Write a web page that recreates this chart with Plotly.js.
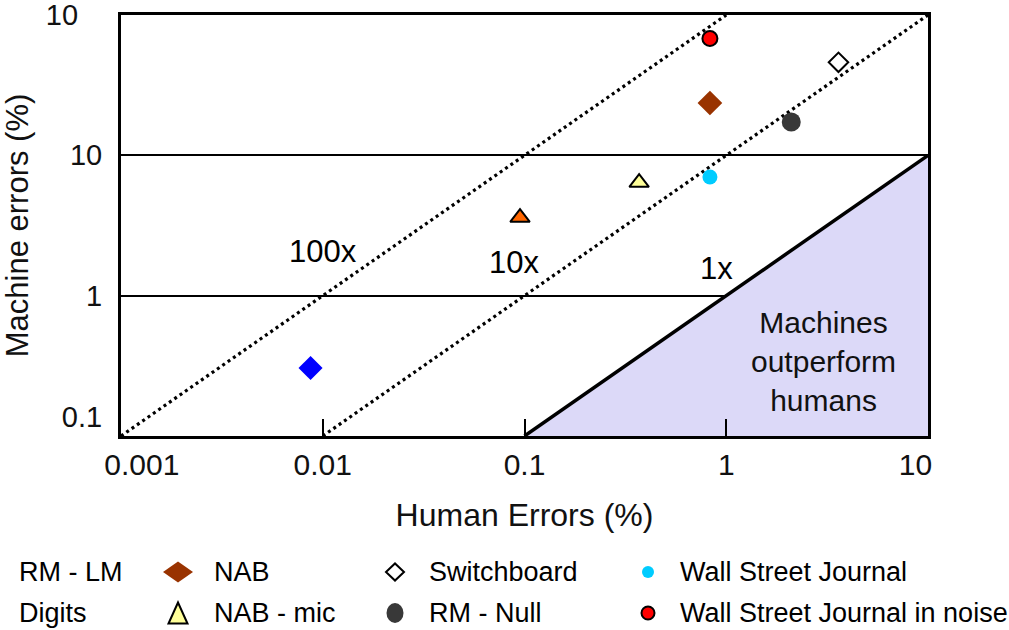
<!DOCTYPE html>
<html>
<head>
<meta charset="utf-8">
<script src="https://cdn.plot.ly/plotly-3.0.1.min.js"></script>
<style>html,body{margin:0;padding:0;background:#fff;}#chart{width:1009px;height:630px;}</style>
</head>
<body>
<div id="chart"></div>
<script>
// ---- data ----
const seriesNames = ["Digits", "RM - LM", "NAB - mic", "Wall Street Journal", "NAB", "RM - Null", "Switchboard", "Wall Street Journal in noise"];
const humanErrors = [0.0087, 0.095, 0.37, 0.83, 0.83, 2.1, 3.6, 0.83];
const machineErrors = [0.305, 3.6, 6.4, 7.0, 23.6, 17.3, 46, 68];
const xTickVals = [0.001, 0.01, 0.1, 1, 10];
const xTickText = ["0.001", "0.01", "0.1", "1", "10"];
const yTickVals = [0.1, 1, 10, 100];
const yTickText = ["0.1", "1", "10", "10"];
const ratioLabels = ["100x", "10x", "1x"];
const ratios = [100, 10, 1];
const legendRow1 = ["RM - LM", "NAB", "Switchboard", "Wall Street Journal"];
const legendRow2 = ["Digits", "NAB - mic", "RM - Null", "Wall Street Journal in noise"];
const regionLabel = "Machines<br>outperform<br>humans";

// ---- styles ----
const FONT = "Liberation Sans, Arial, Helvetica, sans-serif";
const NB = "\u00a0";
const markerStyles = [
  {symbol: "diamond", size: 18.5, color: "#0000ff", line: {width: 0}},
  {symbol: "triangle-up", size: 17, color: "#ff6600", line: {width: 2, color: "#000"}},
  {symbol: "triangle-up", size: 17, color: "#ffff99", line: {width: 2, color: "#000"}},
  {symbol: "circle", size: 15, color: "#00ccff", line: {width: 0}},
  {symbol: "diamond", size: 19, color: "#993300", line: {width: 0}},
  {symbol: "circle", size: 19, color: "#383838", line: {width: 0}},
  {symbol: "diamond-open", size: 15, color: "#000", line: {width: 2, color: "#000"}},
  {symbol: "circle", size: 15, color: "#ff0000", line: {width: 2, color: "#000"}}
];

const xMin = 0.001, xMax = 10, yMin = 0.1, yMax = 100;
const traces = [];

// shaded region where machines outperform humans (below 1x line)
traces.push({
  x: [yMin, xMax, xMax, yMin], y: [yMin, xMax, yMin, yMin],
  mode: "lines", fill: "toself", fillcolor: "#dcd9f8",
  line: {width: 0}, hoverinfo: "skip", showlegend: false
});

// ratio lines y = r * x
ratios.forEach((r) => {
  const x0 = yMin / r, x1 = Math.min(xMax, yMax / r);
  traces.push({
    x: [x0, x1], y: [x0 * r, x1 * r], mode: "lines",
    line: {color: "#000", width: r === 1 ? 3.5 : 3.2, dash: r === 1 ? "solid" : "3px,3.5px"},
    hoverinfo: "skip", showlegend: false
  });
});

// data points
seriesNames.forEach((n, i) => {
  traces.push({
    x: [humanErrors[i]], y: [machineErrors[i]], name: n,
    mode: "markers", type: "scatter", marker: markerStyles[i], showlegend: false
  });
});

// ---- layout ----
const L = 121, R = 928, T = 15, B = 436;
const px = v => (v - L) / (R - L);
const py = v => (B - v) / (B - T);

const annotations = [];
const ratioPos = [[0.01, 2.05], [0.089, 1.72], [0.89, 1.57]];
ratioLabels.forEach((t, i) => {
  annotations.push({x: Math.log10(ratioPos[i][0]), y: Math.log10(ratioPos[i][1]), xref: "x", yref: "y",
    text: t, showarrow: false, font: {family: FONT, size: 31, color: "#000"}});
});
annotations.push({x: Math.log10(3.05), y: Math.log10(0.34), xref: "x", yref: "y",
  text: regionLabel, showarrow: false, align: "center",
  font: {family: FONT, size: 30, color: "#111"}});

// legend (drawn manually to match the 4-column layout)
const shapes = [];
const legCols = [[17, null], [178, 212], [395, 427], [648, 678]];
const rowsY = [572, 613];
const legRows = [legendRow1, legendRow2];
const legMarkers = [
  [null, {t: "diamond", w: 30, h: 21, fill: "#993300", line: 0}, {t: "diamond", w: 18, h: 17, fill: "#fff", line: 2}, {t: "circle", w: 12, h: 12, fill: "#00ccff", line: 0}],
  [null, {t: "triangle", w: 19, h: 21, fill: "#ffff99", line: 2}, {t: "circle", w: 17, h: 20, fill: "#383838", line: 0}, {t: "circle", w: 13, h: 13, fill: "#ff0000", line: 2}]
];
legRows.forEach((row, ri) => {
  row.forEach((label, ci) => {
    const [mx, tx] = legCols[ci];
    const m = legMarkers[ri][ci];
    annotations.push({x: px(tx === null ? mx : tx), y: py(rowsY[ri]), xref: "paper", yref: "paper",
      xanchor: "left", yanchor: "middle", text: label, showarrow: false,
      font: {family: FONT, size: 27, color: "#000"}});
    if (m) {
      const hw = m.w / 2, hh = m.h / 2;
      const base = {xref: "paper", yref: "paper", xsizemode: "pixel", ysizemode: "pixel",
        xanchor: px(mx), yanchor: py(rowsY[ri]), fillcolor: m.fill,
        line: {color: "#000", width: m.line}};
      if (m.t === "circle") {
        shapes.push(Object.assign({type: "circle", x0: -hw, x1: hw, y0: -hh, y1: hh}, base));
      } else if (m.t === "diamond") {
        shapes.push(Object.assign({type: "path", path: `M ${-hw} 0 L 0 ${hh} L ${hw} 0 L 0 ${-hh} Z`}, base));
      } else {
        shapes.push(Object.assign({type: "path", path: `M ${-hw} ${-hh} L ${hw} ${-hh} L 0 ${hh} Z`}, base));
      }
    }
  });
});

const layout = {
  width: 1009, height: 630,
  margin: {l: L, r: 1009 - R, t: T, b: 630 - B},
  paper_bgcolor: "#fff", plot_bgcolor: "#fff",
  font: {family: FONT, color: "#000"},
  showlegend: false,
  xaxis: {
    type: "log", range: [Math.log10(xMin), Math.log10(xMax)],
    tickvals: xTickVals,
    ticktext: [NB.repeat(5) + xTickText[0], xTickText[1], xTickText[2], xTickText[3], xTickText[4] + NB.repeat(3)],
    ticks: "inside", ticklen: 17, tickwidth: 2, tickcolor: "#000",
    ticklabeloverflow: "allow",
    showline: true, linewidth: 3, linecolor: "#000", mirror: true,
    showgrid: false, zeroline: false, layer: "above traces",
    tickfont: {family: FONT, size: 30, color: "#111"},
    title: {text: "Human Errors (%)", font: {family: FONT, size: 32, color: "#111"}, standoff: 24}
  },
  yaxis: {
    type: "log", range: [Math.log10(yMin), Math.log10(yMax)],
    tickvals: yTickVals,
    ticktext: [yTickText[0] + "<br>", yTickText[1], yTickText[2], yTickText[3] + NB.repeat(3)],
    ticks: "", ticklabelstandoff: 10, ticklabeloverflow: "allow",
    showline: true, linewidth: 3, linecolor: "#000", mirror: true,
    showgrid: true, gridcolor: "#000", gridwidth: 2, zeroline: false, layer: "above traces",
    tickfont: {family: FONT, size: 29, color: "#111"},
    title: {text: "Machine errors (%)", font: {family: FONT, size: 31, color: "#111"}, standoff: 12}
  },
  annotations: annotations,
  shapes: shapes
};

Plotly.newPlot("chart", traces, layout, {displayModeBar: false, staticPlot: true});
</script>
</body>
</html>
